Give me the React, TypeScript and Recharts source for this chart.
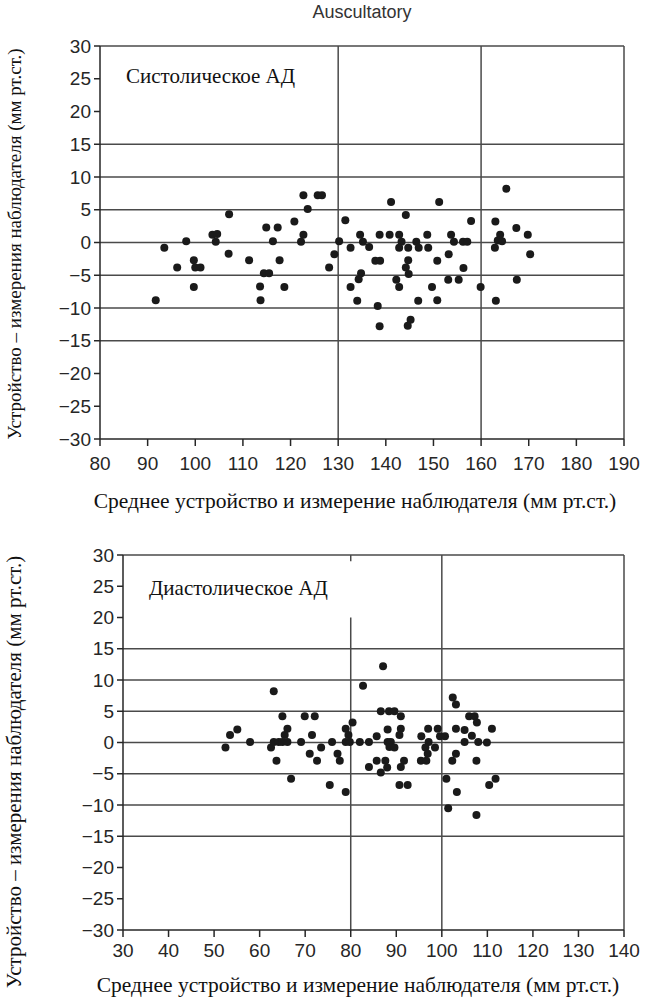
import { ScatterChart, Scatter, XAxis, YAxis, ReferenceLine } from 'recharts';

// systolic panel (mean of device & observer, difference)
const sysMean = [
  91.7, 93.5, 96.2, 98.1, 99.7, 100.0, 101.1, 99.7, 103.6, 104.6, 104.3, 107.1, 107.0, 111.3, 113.6, 113.7,
  114.4, 115.5, 114.9, 116.3, 117.3, 117.7, 118.7, 120.8, 122.7, 122.2, 122.7, 123.6, 125.7, 126.6, 128.1,
  129.2, 130.2, 131.5, 132.6, 134.6, 135.2, 136.5, 134.8, 134.3, 132.6, 134.0, 137.8, 138.8, 138.7, 140.8,
  141.1, 138.3, 138.7, 142.8, 143.3, 142.8, 144.7, 144.2, 144.7, 144.2, 144.8, 142.2, 142.8, 145.2, 144.6,
  146.4, 146.9, 146.8, 148.7, 148.9, 149.7, 150.8, 150.8, 151.2, 153.2, 153.7, 154.3, 153.1, 155.3, 156.3,
  156.2, 157.1, 157.9, 159.9, 163.0, 162.9, 164.0, 163.5, 164.4, 163.1, 165.3, 167.4, 167.5, 169.8, 170.3,
];
const sysDiff = [
  -8.8, -0.8, -3.8, 0.2, -2.7, -3.8, -3.8, -6.8, 1.2, 1.3, 0.1, 4.3, -1.7, -2.7, -6.7, -8.8,
  -4.7, -4.7, 2.3, 0.2, 2.3, -2.7, -6.8, 3.2, 1.2, 0.1, 7.2, 5.1, 7.2, 7.2, -3.8,
  -1.8, 0.2, 3.4, -0.8, 1.2, 0.1, -0.7, -4.7, -5.6, -6.8, -8.9, -2.8, -2.8, 1.2, 1.2,
  6.2, -9.7, -12.8, 1.2, 0.1, -0.8, -0.8, 4.2, -2.7, -3.8, -4.8, -5.7, -6.8, -11.8, -12.7,
  0.1, -0.8, -8.9, 1.2, -0.8, -6.8, -2.8, -8.8, 6.2, -1.8, 1.2, 0.1, -5.7, -5.7, -3.9,
  0.1, 0.1, 3.3, -6.8, 3.2, -0.8, 1.2, 0.3, 0.2, -8.9, 8.2, 2.2, -5.7, 1.2, -1.8,
];

// diastolic panel
const diaMean = [
  52.5, 53.5, 55.1, 57.9, 62.5, 63.1, 63.1, 63.7, 64.2, 65.0, 65.0, 65.5, 66.1, 66.1, 66.9, 69.1,
  69.9, 71.5, 72.1, 71.0, 72.6, 73.5, 75.9, 75.4, 77.1, 77.6, 78.9, 78.9, 79.5, 79.8, 78.9, 80.4,
  82.0, 84.0, 82.7, 87.1, 85.7, 86.6, 88.4, 89.6, 91.0, 88.1, 91.0, 90.7, 88.1, 88.8, 88.5, 89.6,
  85.7, 87.6, 84.0, 88.0, 86.6, 91.7, 91.0, 90.7, 92.5, 95.5, 97.0, 97.1, 96.4, 98.5, 96.9, 95.4,
  96.6, 99.1, 99.6, 100.7, 101.0, 101.4, 102.4, 103.1, 103.1, 105.0, 105.0, 103.1, 102.3, 103.3,
  106.0, 107.2, 107.7, 106.6, 108.0, 107.6, 109.9, 111.0, 111.8, 110.4, 107.6,
];
const diaDiff = [
  -0.8, 1.2, 2.1, 0.1, -0.8, 8.2, 0.1, -2.9, 0.1, 4.2, 0.1, 1.2, 2.2, 0.1, -5.8, 0.1,
  4.2, 1.2, 4.2, -1.8, -2.9, -0.8, 0.1, -6.8, -1.8, -2.9, 2.2, 0.1, 1.2, 0.1, -7.9, 3.2,
  0.1, 0.1, 9.1, 12.2, 1.0, 5.0, 5.0, 5.0, 4.2, 2.1, 2.2, 1.2, 0.1, 0.1, -0.7, -0.8,
  -2.9, -2.9, -3.9, -4.0, -4.8, -2.9, -3.9, -6.8, -6.8, 1.0, 2.2, 0.1, -0.8, -0.8, -1.8, -2.9,
  -2.9, 2.2, 1.0, 1.0, -5.8, -10.5, 7.2, 6.1, 2.2, 2.0, 0.1, -1.8, -2.9, -7.9,
  4.2, 4.2, 3.2, 1.1, 0.1, -2.9, 0.0, 2.2, -5.8, -6.8, -11.6,
];

const sysTicks = [80, 90, 100, 110, 120, 130, 140, 150, 160, 170, 180, 190];
const diaTicks = [30, 40, 50, 60, 70, 80, 90, 100, 110, 120, 130, 140];
const diffTicks = [-30, -25, -20, -15, -10, -5, 0, 5, 10, 15, 20, 25, 30];
const gridRows = [-15, -10, -5, 0, 5, 10, 15];

const sysPoints = sysMean.map((m, i) => ({ mean: m, diff: sysDiff[i] }));
const diaPoints = diaMean.map((m, i) => ({ mean: m, diff: diaDiff[i] }));

const SANS = '"Liberation Sans", Arial, Helvetica, sans-serif';
const SERIF = '"Liberation Serif", "Times New Roman", serif';
const INK = '#262626';
const GRID = '#4a4a4a';
const TICK_FONT = 19;

const minus = (v: number) => (v < 0 ? '\u2212' + Math.abs(v) : String(v));
const dot = (p: any) => <circle cx={p.cx} cy={p.cy} r={4} fill="#1a1a1a" />;

const Y_TITLE = 'Устройство – измерения наблюдателя (мм рт.ст.)';
const X_TITLE = 'Среднее устройство и измерение наблюдателя (мм рт.ст.)';

const tickStyle = { fill: INK, fontSize: TICK_FONT, fontFamily: SANS };

export default function App() {
  return (
    <div style={{ position: 'absolute', left: 0, top: 0, width: 645, height: 1001, background: '#fff' }}>
      {/* Systolic */}
      <div style={{ position: 'absolute', left: 0, top: 0 }}>
        <ScatterChart width={645} height={519} margin={{ top: 46, right: 21, bottom: 0, left: 0 }}>
          <XAxis
            type="number"
            dataKey="mean"
            domain={[80, 190]}
            ticks={sysTicks}
            interval={0}
            tickSize={7}
            tickMargin={11}
            height={80}
            stroke={INK}
            strokeWidth={1.5}
            fontSize={TICK_FONT}
            tick={tickStyle}
            label={{
              value: X_TITLE,
              content: () => (
                <text x={355} y={508} textAnchor="middle" fontFamily={SERIF} fontSize={21.5} fill="#111">
                  {X_TITLE}
                </text>
              ),
            }}
          />
          <YAxis
            type="number"
            dataKey="diff"
            domain={[-30, 30]}
            ticks={diffTicks}
            interval={0}
            tickSize={6}
            tickMargin={3}
            width={100}
            stroke={INK}
            strokeWidth={1.5}
            fontSize={TICK_FONT}
            tickFormatter={minus}
            tick={tickStyle}
            label={{
              value: Y_TITLE,
              content: () => (
                <text
                  x={0}
                  y={0}
                  transform="translate(21 244) rotate(-90)"
                  textAnchor="middle"
                  fontFamily={SERIF}
                  fontSize={19}
                  fill="#111"
                >
                  {Y_TITLE}
                </text>
              ),
            }}
          />
          {gridRows.map((g) => (
            <ReferenceLine key={g} y={g} stroke={GRID} strokeWidth={1.5} />
          ))}
          <ReferenceLine x={130} stroke={GRID} strokeWidth={1.5} />
          <ReferenceLine x={160} stroke={GRID} strokeWidth={1.5} />
          <ReferenceLine x={190} stroke={GRID} strokeWidth={1.5} />
          <ReferenceLine
            y={30}
            stroke={GRID}
            strokeWidth={1.5}
            label={{
              value: 'Систолическое АД',
              content: () => (
                <g>
                  <text x={362} y={18} textAnchor="middle" fontFamily={SANS} fontSize={18} fill="#333">
                    Auscultatory
                  </text>
                  <text x={126} y={83} fontFamily={SERIF} fontSize={21} fill="#111">
                    Систолическое АД
                  </text>
                </g>
              ),
            }}
          />
          <Scatter data={sysPoints} shape={dot} isAnimationActive={false} />
        </ScatterChart>
      </div>

      {/* Diastolic */}
      <div style={{ position: 'absolute', left: 0, top: 519 }}>
        <ScatterChart width={645} height={482} margin={{ top: 36, right: 21, bottom: 0, left: 0 }}>
          <XAxis
            type="number"
            dataKey="mean"
            domain={[30, 140]}
            ticks={diaTicks}
            interval={0}
            tickSize={7}
            tickMargin={7}
            height={71}
            stroke={INK}
            strokeWidth={1.5}
            fontSize={TICK_FONT}
            tick={tickStyle}
            label={{
              value: X_TITLE,
              content: () => (
                <text x={358} y={473} textAnchor="middle" fontFamily={SERIF} fontSize={21.5} fill="#111">
                  {X_TITLE}
                </text>
              ),
            }}
          />
          <YAxis
            type="number"
            dataKey="diff"
            domain={[-30, 30]}
            ticks={diffTicks}
            interval={0}
            tickSize={6}
            tickMargin={3}
            width={123}
            stroke={INK}
            strokeWidth={1.5}
            fontSize={TICK_FONT}
            tickFormatter={minus}
            tick={tickStyle}
            label={{
              value: Y_TITLE,
              content: () => (
                <text
                  x={0}
                  y={0}
                  transform="translate(21 253) rotate(-90)"
                  textAnchor="middle"
                  fontFamily={SERIF}
                  fontSize={21}
                  fill="#111"
                >
                  {Y_TITLE}
                </text>
              ),
            }}
          />
          {gridRows.map((g) => (
            <ReferenceLine key={g} y={g} stroke={GRID} strokeWidth={1.5} />
          ))}
          <ReferenceLine segment={[{ x: 80, y: 20 }, { x: 80, y: -30 }]} stroke={GRID} strokeWidth={1.5} />
          <ReferenceLine segment={[{ x: 80, y: 30 }, { x: 80, y: 29 }]} stroke={GRID} strokeWidth={1.5} />
          <ReferenceLine x={100} stroke={GRID} strokeWidth={1.5} />
          <ReferenceLine x={140} stroke={GRID} strokeWidth={1.5} />
          <ReferenceLine
            y={30}
            stroke={GRID}
            strokeWidth={1.5}
            label={{
              value: 'Диастолическое АД',
              content: () => (
                <text x={149} y={76} fontFamily={SERIF} fontSize={21} fill="#111">
                  Диастолическое АД
                </text>
              ),
            }}
          />
          <Scatter data={diaPoints} shape={dot} isAnimationActive={false} />
        </ScatterChart>
      </div>
    </div>
  );
}
